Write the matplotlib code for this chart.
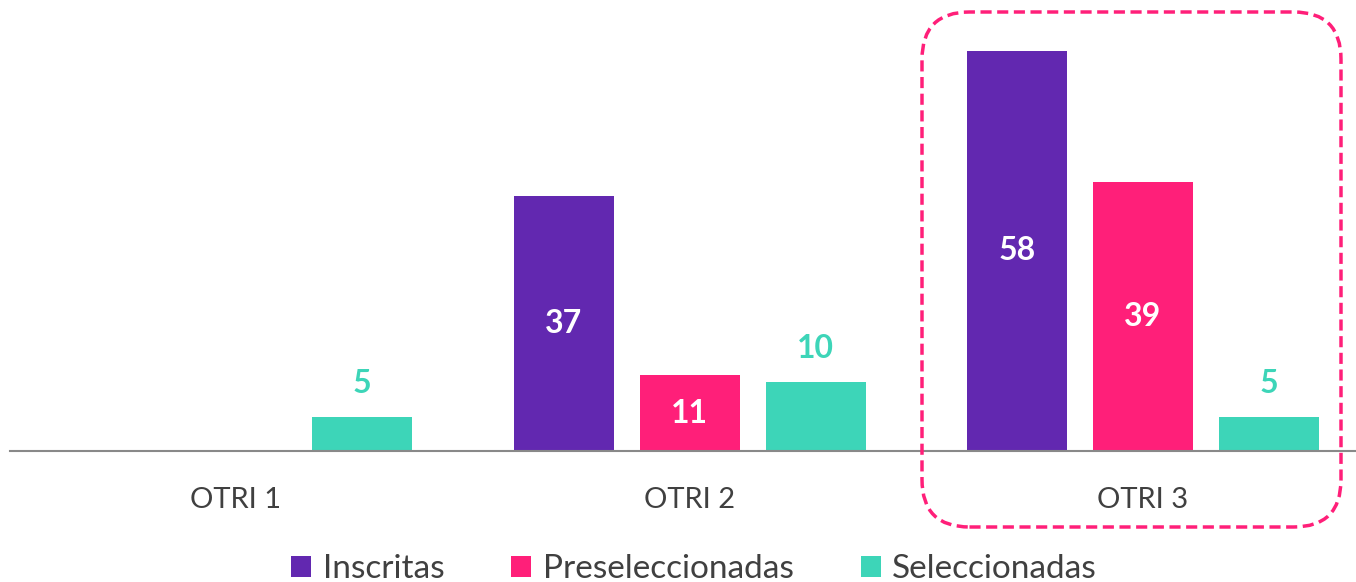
import numpy as np
import matplotlib.pyplot as plt
from matplotlib.patches import FancyBboxPatch

plt.rcParams['font.family'] = ['Lato', 'DejaVu Sans']

categories = ["OTRI 1", "OTRI 2", "OTRI 3"]
series = ["Inscritas", "Preseleccionadas", "Seleccionadas"]
inscritas = [0, 37, 58]
preseleccionadas = [0, 11, 39]
seleccionadas = [5, 10, 5]
colors = ["#6228B0", "#FF1F79", "#3DD5B8"]

W, H = 1356, 582
fig = plt.figure(figsize=(W / 100, H / 100), dpi=100)

# axes placed in pixels: baseline at y=451, groups spaced ~453 px
base_px = 451
px_per_unit = 6.9
group_px = 453.5
ax = fig.add_axes([10 / W, (H - base_px) / H, (W - 10) / W, base_px / H])
ax.set_xlim(-226 / group_px, (W - 236) / group_px)
ax.set_ylim(0, base_px / px_per_unit)

x = np.arange(len(categories))
offset = 126 / group_px
width = 100 / group_px

data = [inscritas, preseleccionadas, seleccionadas]
for i, (vals, col) in enumerate(zip(data, colors)):
    xs = x + (i - 1) * offset
    ax.bar(xs, vals, width=width, color=col, label=series[i])
    for xi, v in zip(xs, vals):
        if v == 0:
            continue
        if i < 2:
            ax.text(xi, v / 2, str(v), ha="center", va="center", color="white",
                    fontsize=23, fontweight="bold")
        else:
            ax.text(xi, v + 33 / px_per_unit, str(v), ha="center", va="center",
                    color=col, fontsize=23, fontweight="bold")

for s in ["top", "right", "left"]:
    ax.spines[s].set_visible(False)
ax.spines["bottom"].set_color("#898989")
ax.spines["bottom"].set_linewidth(1.5)
ax.set_yticks([])
ax.set_xticks(x)
ax.set_xticklabels(categories, fontsize=21, color="#404040")
ax.tick_params(axis="x", length=0, pad=26)

# dashed highlight around OTRI 3
box = FancyBboxPatch((922 / W, (H - 527) / H), (1341 - 922) / W, (527 - 12) / H,
                     boxstyle="round,pad=0,rounding_size=0.035",
                     transform=fig.transFigure, fill=False, edgecolor="#FF1F79",
                     linewidth=2.5, linestyle=(0, (3.2, 1.6)), mutation_aspect=W / H)
fig.patches.append(box)

fig.legend(loc="center", bbox_to_anchor=(0.512, (H - 569) / H), ncol=3, frameon=False,
           fontsize=24, handlelength=0.6, handleheight=0.6, handletextpad=0.35,
           columnspacing=2.0, labelcolor="#404040")

fig.savefig("out.png", dpi=100)
